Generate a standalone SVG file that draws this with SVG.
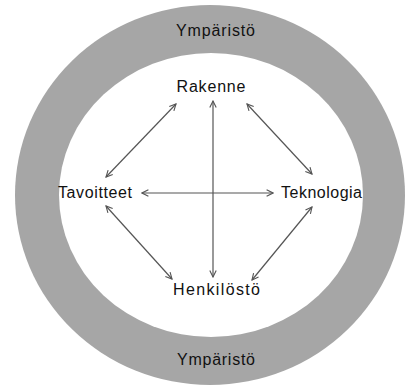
<svg xmlns="http://www.w3.org/2000/svg" width="405" height="386" viewBox="0 0 405 386">
<style>
.lbl{font-family:"Liberation Sans",Arial,sans-serif;font-size:16px;fill:#111;text-anchor:middle}
.con{stroke:#555;stroke-width:1.2;fill:none;marker-start:url(#ah);marker-end:url(#ah)}
</style>
<defs>
<marker id="ah" viewBox="0 0 10 10" refX="9" refY="5" markerWidth="8" markerHeight="8" markerUnits="userSpaceOnUse" orient="auto-start-reverse">
<path d="M1,1 L9,5 L1,9" fill="none" stroke="#555" stroke-width="1.4"/>
</marker>
</defs>
<rect width="405" height="386" fill="#fff"/>
<g id="environment">
<ellipse cx="210" cy="195" rx="195" ry="190" fill="#a6a6a6"/>
<ellipse cx="211" cy="195" rx="152" ry="142" fill="#fff"/>
<text class="lbl" x="215.5" y="36" textLength="79" lengthAdjust="spacing">Ympäristö</text>
<text class="lbl" x="216" y="365" textLength="78" lengthAdjust="spacing">Ympäristö</text>
</g>
<g id="connectors">
<line class="con" x1="213" y1="101" x2="213" y2="277"/>
<line class="con" x1="142" y1="193" x2="273" y2="193"/>
<line class="con" x1="176" y1="104" x2="106" y2="177"/>
<line class="con" x1="247" y1="104" x2="312" y2="174"/>
<line class="con" x1="106" y1="206" x2="172" y2="279"/>
<line class="con" x1="312" y1="207" x2="252" y2="280"/>
</g>
<g id="rakenne"><text class="lbl" x="211" y="92" textLength="69" lengthAdjust="spacing">Rakenne</text></g>
<g id="tavoitteet"><text class="lbl" x="95" y="198" textLength="74" lengthAdjust="spacing">Tavoitteet</text></g>
<g id="teknologia"><text class="lbl" x="321.5" y="198" textLength="81" lengthAdjust="spacing">Teknologia</text></g>
<g id="henkilosto"><text class="lbl" x="216.5" y="295" textLength="87" lengthAdjust="spacing">Henkilöstö</text></g>
</svg>
